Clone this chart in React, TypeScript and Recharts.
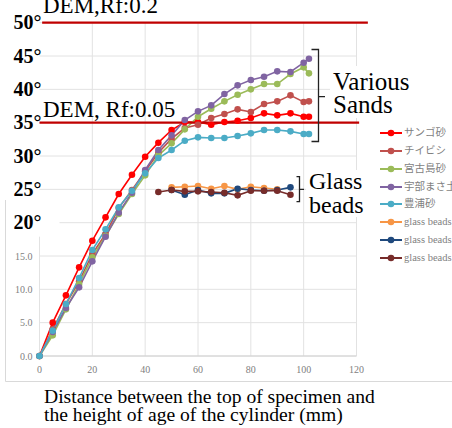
import React from 'react';
import { LineChart, Line, XAxis, YAxis, CartesianGrid, ReferenceLine, Legend } from 'recharts';

// ---------- data ----------
const sandX = [0, 5, 10, 15, 20, 25, 30, 35, 40, 45, 50, 55, 60, 65, 70, 75, 80, 85, 90, 95, 100, 102];
const sangoY = [0, 5.0, 9.1, 13.3, 17.3, 20.8, 24.3, 27.2, 29.9, 32.0, 33.9, 35.1, 35.1, 34.7, 35.1, 35.3, 35.7, 36.4, 36.1, 36.4, 35.9, 35.9];
const chibishiY = [0, 4.0, 7.8, 11.2, 15.3, 18.3, 22.2, 24.9, 27.7, 30.5, 32.6, 34.2, 34.7, 35.7, 36.3, 37.0, 36.6, 37.8, 38.2, 39.1, 38.1, 38.2];
const miyakoY = [0, 3.1, 7.0, 10.8, 14.8, 18.0, 21.3, 24.3, 27.1, 30.1, 31.9, 34.0, 35.9, 37.1, 38.2, 39.2, 40.0, 40.8, 40.8, 42.3, 43.3, 42.4];
const ubeY = [0, 3.6, 7.2, 10.3, 14.2, 17.9, 21.5, 24.5, 27.9, 30.9, 33.1, 35.4, 36.7, 37.6, 39.3, 40.6, 41.4, 41.9, 42.7, 42.6, 44.0, 44.6];
const toyouraY = [0, 3.8, 7.8, 11.7, 15.9, 19.0, 22.3, 24.8, 27.4, 29.7, 30.9, 32.3, 32.8, 32.7, 32.7, 33.0, 33.4, 33.9, 33.9, 33.7, 33.3, 33.3];

const glass1X = [50, 55, 60, 65, 70, 75, 80, 85, 90];
const glass1Y = [25.3, 25.4, 25.5, 25.1, 25.5, 25.0, 25.4, 25.2, 25.0];
const glass2X = [50, 55, 60, 65, 70, 75, 80, 85, 90, 95];
const glass2Y = [24.9, 24.2, 24.9, 24.4, 24.4, 25.1, 24.9, 24.8, 24.9, 25.3];
const glass3X = [45, 50, 55, 60, 65, 70, 75, 80, 85, 90, 95];
const glass3Y = [24.6, 24.9, 24.7, 24.7, 24.6, 24.5, 24.1, 24.8, 24.8, 24.8, 24.2];

const seriesNames = ['サンゴ砂', 'チイビシ', '宮古島砂', '宇部まさ土', '豊浦砂', 'glass beads', 'glass beads', 'glass beads'];
const seriesColors = ['#FF0000', '#C0504D', '#9BBB59', '#8064A2', '#4BACC6', '#F79646', '#1F497D', '#772C2A'];

const xTicks = [0, 20, 40, 60, 80, 100, 120];
const yTicks = [0, 5, 10, 15, 20, 25, 30, 35, 40, 45, 50];
const demHigh = 50;
const demLow = 35;
const xAxisTitle = ['Distance between the top of specimen and', 'the height of age of the cylinder (mm)'];

// ---------- helpers ----------
const toPoints = (xs: number[], ys: number[]) => xs.map((x, i) => ({ x, y: ys[i] }));

const seriesData = [
  toPoints(sandX, sangoY),
  toPoints(sandX, chibishiY),
  toPoints(sandX, miyakoY),
  toPoints(sandX, ubeY),
  toPoints(sandX, toyouraY),
  toPoints(glass1X, glass1Y),
  toPoints(glass2X, glass2Y),
  toPoints(glass3X, glass3Y),
];

const SERIF = "'Liberation Serif', 'DejaVu Serif', serif";
const LEGEND_FONT = "'Liberation Serif', 'Noto Sans CJK JP', serif";
const GRID = '#e2e2e2';

const serifStyle = (size: number, bold = false) => ({
  fontFamily: SERIF,
  fontSize: size,
  fontWeight: bold ? 700 : 400,
});

const YTick = (props: any) => {
  const { x, y, payload } = props;
  const v = payload.value as number;
  if (v < 20) {
    return (
      <text x={x} y={y} dy={3.5} textAnchor="end" style={serifStyle(10)} fill="#808080">
        {v.toFixed(1)}
      </text>
    );
  }
  return (
    <g>
      {v === 20 && <rect x={x - 25} y={y - 24} width={52} height={36} fill="#ffffff" />}
      <text x={x + 9} y={y} dy={6.5} textAnchor="end" style={serifStyle(20, true)} fill="#000">
        {v}°
      </text>
    </g>
  );
};

const XTick = (props: any) => {
  const { x, y, payload } = props;
  return (
    <text x={x} y={y} dy={16.5} textAnchor="middle" style={serifStyle(10)} fill="#808080">
      {payload.value}
    </text>
  );
};

const renderLegend = (props: any) => {
  const items = [...(props.payload || [])].sort(
    (a: any, b: any) => seriesColors.indexOf(a.color) - seriesColors.indexOf(b.color)
  );
  return (
    <div style={{ position: 'absolute', left: 0, top: 0 }}>
      {items.map((p: any, i: number) => (
        <div key={i} style={{ height: 17.75, display: 'flex', alignItems: 'center', whiteSpace: 'nowrap' }}>
          <svg width={23} height={10} style={{ display: 'block' }}>
            <line x1={0} y1={5} x2={22} y2={5} stroke={p.color} strokeWidth={2} />
            <circle cx={11} cy={5} r={3.3} fill={p.color} />
          </svg>
          <span style={{ marginLeft: 1, fontSize: 10.5, color: '#7f7f7f', fontFamily: LEGEND_FONT, lineHeight: '12px' }}>
            {p.value}
          </span>
        </div>
      ))}
    </div>
  );
};

export default function App() {
  return (
    <div style={{ position: 'absolute', left: 0, top: 0, width: 452, height: 428, overflow: 'hidden', background: '#fff' }}>
      <LineChart
        width={452}
        height={428}
        margin={{ top: 22.7, right: 95.5, bottom: 52, left: 0 }}
        style={{ position: 'absolute', left: 0, top: 0 }}
      >
        <CartesianGrid
          stroke={GRID}
          verticalCoordinatesGenerator={(args: any) => {
            const { xAxis, offset } = args || {};
            return xTicks
              .filter((t) => t > 0)
              .map((t) =>
                xAxis && typeof xAxis.scale === 'function'
                  ? xAxis.scale(t)
                  : offset.left + (t / 120) * offset.width
              );
          }}
        />
        <XAxis
          type="number"
          dataKey="x"
          domain={[0, 120]}
          ticks={xTicks}
          interval={0}
          height={20}
          tickSize={0}
          tickMargin={0}
          tickLine={false}
          axisLine={{ stroke: '#d0d0d0' }}
          tick={<XTick />}
        />
        <YAxis
          type="number"
          dataKey="y"
          domain={[0, 50]}
          ticks={yTicks}
          interval={0}
          width={39.5}
          tickSize={0}
          tickMargin={7}
          tickLine={false}
          axisLine={false}
          tick={<YTick />}
        />
        <ReferenceLine
          segment={[{ x: 0, y: 0 }, { x: 0, y: 17.9 }]}
          stroke={GRID}
          ifOverflow="visible"
        />
        {seriesData.map((d, i) => (
          <Line
            key={i}
            data={d}
            dataKey="y"
            name={seriesNames[i]}
            type="linear"
            stroke={seriesColors[i]}
            strokeWidth={1.6}
            dot={{ r: 3.3, fill: seriesColors[i], stroke: seriesColors[i], strokeWidth: 0 }}
            activeDot={false}
            isAnimationActive={false}
            legendType="line"
          />
        ))}
        <ReferenceLine
          segment={[{ x: 1, y: demHigh }, { x: 124.3, y: demHigh }]}
          stroke="#C00000"
          strokeWidth={2.2}
          ifOverflow="visible"
        />
        <ReferenceLine
          segment={[{ x: 0, y: demLow }, { x: 121, y: demLow }]}
          stroke="#C00000"
          strokeWidth={2.2}
          ifOverflow="visible"
        />
        <Legend
          layout="vertical"
          align="right"
          verticalAlign="top"
          itemSorter={null as any}
          content={renderLegend}
          wrapperStyle={{ position: 'absolute', left: 380, top: 124.5, width: 0, height: 0, overflow: 'visible' }}
        />
      </LineChart>
      <svg width={452} height={428} style={{ position: 'absolute', left: 0, top: 0, pointerEvents: 'none' }}>
        <line x1={5.5} y1={200} x2={5.5} y2={381.5} stroke="#d9d9d9" />
        <line x1={5.5} y1={381.5} x2={452} y2={381.5} stroke="#d9d9d9" />
        <text x={43} y={13} style={serifStyle(23)} fill="#000">DEM,Rf:0.2</text>
        <text x={43} y={117.3} style={serifStyle(23)} fill="#000">DEM, Rf:0.05</text>
        <rect x={330} y={66} width={84} height={52} fill="#fff" />
        <text x={333} y={90} style={serifStyle(25)} fill="#000">Various</text>
        <text x={333} y={113.3} style={serifStyle(25)} fill="#000">Sands</text>
        <path d="M311.5 49.5 H318.5 V141.5 H311.5 M318.5 96.7 H325" stroke="#222" strokeWidth={1.3} fill="none" />
        <rect x={306} y={170} width={62} height={47} fill="#fff" />
        <path d="M296.5 176.7 H299.5 V201.7 H296.5 M299.5 189.3 H304" stroke="#222" strokeWidth={1.3} fill="none" />
        <text x={309} y={189.3} style={serifStyle(24)} fill="#000">Glass</text>
        <text x={309} y={212.7} style={serifStyle(24)} fill="#000">beads</text>
        <text x={44} y={403} style={serifStyle(19.6)} fill="#000">{xAxisTitle[0]}</text>
        <text x={44} y={421} style={serifStyle(19.6)} fill="#000">{xAxisTitle[1]}</text>
      </svg>
    </div>
  );
}
